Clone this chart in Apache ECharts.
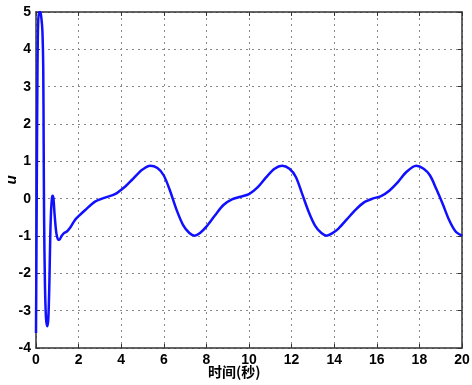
<!DOCTYPE html>
<html>
<head>
<meta charset="utf-8">
<script src="https://cdn.jsdelivr.net/npm/echarts@6/dist/echarts.min.js"></script>
<style>html,body{margin:0;padding:0;background:#fff}#c{width:472px;height:385px}</style>
</head>
<body>
<div id="c"></div>
<script>
// time (s)
var timeValues = [0, 0.02, 0.04, 0.07, 0.1, 0.15, 0.2, 0.25, 0.3, 0.34, 0.36, 0.38, 0.42, 0.47, 0.53, 0.58, 0.63, 0.67, 0.71, 0.75, 0.78, 0.82, 0.87, 0.93, 0.98, 1.05, 1.1, 1.2, 1.3, 1.45, 1.6, 1.83, 2.0, 2.3, 2.77, 3.24, 3.71, 4.18, 4.5, 4.8, 5.0, 5.35, 5.7, 6.0, 6.3, 6.6, 6.9, 7.2, 7.45, 7.7, 8.0, 8.4, 8.8, 9.2, 9.6, 10.0, 10.4, 10.8, 11.2, 11.55, 11.9, 12.2, 12.5, 12.8, 13.1, 13.4, 13.65, 13.9, 14.2, 14.6, 15.0, 15.4, 15.8, 16.2, 16.6, 17.0, 17.4, 17.85, 18.2, 18.5, 18.8, 19.1, 19.4, 19.7, 20];
// control u
var uValues = [-3.6, -1.5, 0.7, 3.5, 4.7, 5.0, 5.0, 4.85, 4.5, 3.5, 1.5, -0.5, -2.3, -3.2, -3.42, -3.2, -2.2, -1.0, -0.3, 0.02, 0.08, 0.0, -0.4, -0.8, -1.0, -1.1, -1.1, -1.0, -0.93, -0.88, -0.78, -0.57, -0.47, -0.31, -0.08, 0.03, 0.12, 0.32, 0.5, 0.68, 0.78, 0.88, 0.82, 0.62, 0.2, -0.3, -0.7, -0.92, -0.99, -0.92, -0.75, -0.45, -0.17, -0.02, 0.05, 0.12, 0.3, 0.57, 0.8, 0.88, 0.8, 0.58, 0.12, -0.35, -0.72, -0.92, -0.99, -0.93, -0.8, -0.55, -0.3, -0.1, 0.0, 0.07, 0.22, 0.45, 0.72, 0.88, 0.8, 0.62, 0.25, -0.15, -0.58, -0.88, -0.99];
var xTicks = [0, 2, 4, 6, 8, 10, 12, 14, 16, 18, 20];
var yTicks = [-4, -3, -2, -1, 0, 1, 2, 3, 4, 5];
var xName = '时间(秒)';
var yName = 'u';

var chart = echarts.init(document.getElementById('c'), null, {renderer: 'canvas'});
var pts = timeValues.map(function (t, i) { return [t, uValues[i]]; });
var lblStyle = {color: '#000', fontFamily: 'Arial, Liberation Sans, sans-serif', fontWeight: 'bold', fontSize: 14};
var lineStyleAxis = {color: '#333', width: 1.5};
var split = {show: true, lineStyle: {color: '#888', type: [2, 4], width: 1}};
chart.setOption({
  animation: false,
  backgroundColor: '#fff',
  grid: {left: 36, right: 10, top: 12, bottom: 37, containLabel: false, outerBoundsMode: 'none'},
  xAxis: [{
    type: 'value', min: xTicks[0], max: xTicks[xTicks.length - 1], interval: 2,
    axisLine: {show: true, onZero: false, lineStyle: lineStyleAxis},
    axisTick: {show: true, inside: true, length: 4, lineStyle: {color: '#333'}},
    axisLabel: Object.assign({margin: 5}, lblStyle),
    splitLine: split
  }, {
    type: 'value', position: 'top', min: xTicks[0], max: xTicks[xTicks.length - 1], interval: 2,
    axisLine: {show: true, onZero: false, lineStyle: lineStyleAxis},
    axisTick: {show: true, inside: true, length: 4, lineStyle: {color: '#333'}},
    axisLabel: {show: false}, splitLine: {show: false}
  }],
  yAxis: [{
    type: 'value', min: yTicks[0], max: yTicks[yTicks.length - 1], interval: 1,
    name: yName, nameLocation: 'middle', nameGap: 17, nameMoveOverlap: false,
    nameTextStyle: {color: '#000', fontFamily: 'Arial, Liberation Sans, sans-serif', fontWeight: 'bold', fontStyle: 'italic', fontSize: 15},
    axisLine: {show: true, onZero: false, lineStyle: lineStyleAxis},
    axisTick: {show: true, inside: true, length: 4, lineStyle: {color: '#333'}},
    axisLabel: Object.assign({margin: 5}, lblStyle),
    splitLine: split
  }, {
    type: 'value', position: 'right', min: yTicks[0], max: yTicks[yTicks.length - 1], interval: 1,
    axisLine: {show: true, onZero: false, lineStyle: lineStyleAxis},
    axisTick: {show: true, inside: true, length: 4, lineStyle: {color: '#333'}},
    axisLabel: {show: false}, splitLine: {show: false}
  }],
  graphic: [{
    type: 'text', left: 208, top: 365,
    style: {text: xName, fill: '#000', font: 'bold 14px "Noto Sans CJK SC", sans-serif'}
  }],
  series: [{
    type: 'line', data: pts, showSymbol: false, smooth: 0.3,
    lineStyle: {color: '#1010ff', width: 2.5}
  }]
});
</script>
</body>
</html>
